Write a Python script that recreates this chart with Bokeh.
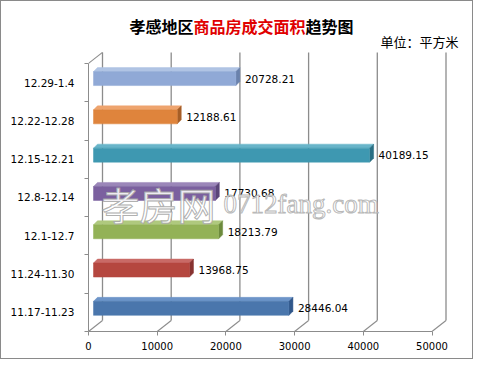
from bokeh.plotting import figure
from bokeh.models import Range1d, FixedTicker, Label
from bokeh.embed import file_html
from bokeh.resources import INLINE
from bokeh.core.properties import value

# ---- data ----
categories = ["11.17-11.23", "11.24-11.30", "12.1-12.7", "12.8-12.14",
              "12.15-12.21", "12.22-12.28", "12.29-1.4"]
areas = [28446.04, 13968.75, 18213.79, 17730.68, 40189.15, 12188.61, 20728.21]
x_ticks = [0, 10000, 20000, 30000, 40000, 50000]

front_colors = ["#4A76AC", "#B5473F", "#93B257", "#7B609F", "#3E98B1", "#DF843C", "#90A9D6"]
side_colors = ["#30578A", "#873230", "#6C8A3C", "#5A4578", "#2A6F83", "#A65E26", "#6A82AC"]
top_colors = ["#6D94C8", "#C96A66", "#AFC97E", "#9B86B9", "#68B4C9", "#EEA46E", "#B0C4E4"]

# ---- layout ----
W, H = 473, 359
BL, BR, BT, BB = 87, 8, 2, 29
FW = W - BL - BR
FH = H - BT - BB
PX_PER_10K = 68.7
UX = 10000 / PX_PER_10K   # data units per px (x)
X_MAX = FW * UX
PPU = 38.3                # px per category (y)
UY = 1.0 / PPU
Y_MIN = -0.5
Y_MAX = Y_MIN + FH / PPU
DX, DY = 14, 11           # back wall offset, px
OFF = 5                   # bar offset from front plane, px
D = 4                     # bar visible depth, px

FONT = "DejaVu Sans"
CJK = "Noto Sans CJK SC"
GRID = "#8C8C8C"
TITLE_PX = 16


def sx(px):
    return (px - BL) * UX


def sy(py):
    return Y_MIN + (H - BB - py) / PPU


p = figure(width=W, height=H, output_backend="svg", toolbar_location=None,
           x_range=Range1d(0, X_MAX), y_range=Range1d(Y_MIN, Y_MAX),
           min_border_left=BL, min_border_right=BR,
           min_border_top=BT, min_border_bottom=BB)
p.outline_line_color = None
p.xgrid.visible = False
p.ygrid.visible = False
p.background_fill_color = "white"
p.border_fill_color = "white"
p.styles = {"border": "1px solid #8A8A8A"}

# ---- back wall gridlines (3D) ----
n_cat = len(categories)
y_top_front = n_cat - 0.5
bx = [t + DX * UX for t in x_ticks]
by0 = Y_MIN + DY * UY
p.segment(x0=x_ticks, y0=[Y_MIN] * len(x_ticks), x1=bx, y1=[by0] * len(x_ticks),
          line_color=GRID, line_width=1.1)
p.segment(x0=bx, y0=[by0] * len(x_ticks), x1=bx, y1=[y_top_front + DY * UY] * len(x_ticks),
          line_color=GRID, line_width=1.3)
# left wall top diagonal
p.segment(x0=[0], y0=[y_top_front], x1=[DX * UX], y1=[y_top_front + DY * UY],
          line_color=GRID, line_width=1.1)

# ---- 3D bars ----
for i, v in enumerate(areas):
    fx0 = OFF * UX
    fx1 = v + OFF * UX
    fy0 = i - 3 * UY
    fy1 = i + 11 * UY
    p.patch([fx0, fx1, fx1 + D * UX, fx0 + D * UX], [fy1, fy1, fy1 + D * UY, fy1 + D * UY],
            fill_color=top_colors[i], line_color=top_colors[i], line_width=0.5)
    p.patch([fx1, fx1 + D * UX, fx1 + D * UX, fx1], [fy0, fy0 + D * UY, fy1 + D * UY, fy1],
            fill_color=side_colors[i], line_color=side_colors[i], line_width=0.5)
    p.quad(left=fx0, right=fx1, bottom=fy0, top=fy1,
           fill_color=front_colors[i], line_color=front_colors[i], line_width=0.5)

# value labels
p.text(x=[v + 14 * UX for v in areas], y=[i + 4 * UY for i in range(n_cat)],
       text=[f"{v:.2f}" for v in areas], text_font=value(FONT), text_font_size="10.5px",
       text_color="black", text_align="left", text_baseline="middle")

# ---- axes ----
xa = p.xaxis[0]
xa.ticker = FixedTicker(ticks=x_ticks)
xa.bounds = (0, x_ticks[-1])
xa.axis_line_color = GRID
xa.major_tick_line_color = GRID
xa.major_tick_out = 4
xa.major_tick_in = 0
xa.minor_tick_line_color = None
xa.major_label_standoff = 6
xa.major_label_text_font = FONT
xa.major_label_text_font_size = "10px"
xa.major_label_text_color = "black"

ya = p.yaxis[0]
ya.ticker = FixedTicker(ticks=list(range(n_cat)), minor_ticks=[i - 0.5 for i in range(n_cat + 1)])
ya.bounds = (Y_MIN, y_top_front)
ya.axis_line_color = GRID
ya.major_tick_line_color = None
ya.major_tick_out = 0
ya.major_tick_in = 0
ya.minor_tick_line_color = GRID
ya.minor_tick_out = 4
ya.minor_tick_in = 0
ya.major_label_standoff = 10
ya.major_label_overrides = {i: c for i, c in enumerate(categories)}
ya.major_label_text_font = FONT
ya.major_label_text_font_size = "10.5px"
ya.major_label_text_color = "black"

# ---- watermark ----
p.add_layout(Label(x=sx(100), y=sy(202), text="孝房网", text_font=CJK, text_font_size="38px",
                   text_color="white", text_alpha=0.9,
                   text_outline_color="#A6A6A6", text_baseline="middle"))
p.add_layout(Label(x=sx(222), y=sy(202), text="0712fang.com", text_font="Liberation Serif",
                   text_font_size="27px", text_color="white", text_alpha=0.9,
                   text_outline_color="#B0B0B0", text_baseline="middle"))

# ---- title (three parts, chained around the red middle) ----
TY = sy(24.5)
RED_LEFT = 192
RED_TEXT = "商品房成交面积"
p.add_layout(Label(x=sx(RED_LEFT), y=TY, text="孝感地区", text_font=CJK,
                   text_font_size=f"{TITLE_PX}px", text_font_style="bold", text_color="black",
                   text_align="right", text_baseline="middle"))
p.add_layout(Label(x=sx(RED_LEFT), y=TY, text=RED_TEXT, text_font=CJK,
                   text_font_size=f"{TITLE_PX}px", text_font_style="bold", text_color="#E00000",
                   text_align="left", text_baseline="middle"))
p.add_layout(Label(x=sx(RED_LEFT + TITLE_PX * len(RED_TEXT)), y=TY, text="趋势图", text_font=CJK,
                   text_font_size=f"{TITLE_PX}px", text_font_style="bold", text_color="black",
                   text_align="left", text_baseline="middle"))
p.add_layout(Label(x=sx(379), y=sy(40), text="单位：平方米", text_font=CJK, text_font_size="13px",
                   text_color="black", text_baseline="middle"))

open("out.html", "w").write(file_html(p, INLINE))
